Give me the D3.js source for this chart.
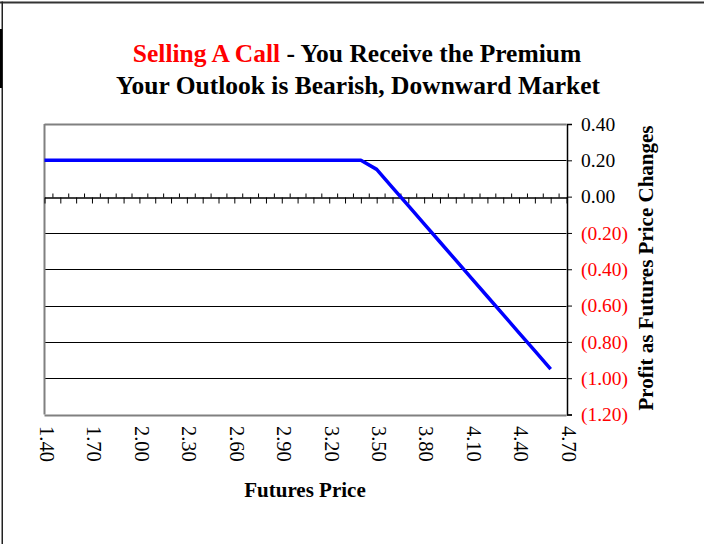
<!DOCTYPE html>
<html>
<head>
<meta charset="utf-8">
<script src="https://cdn.jsdelivr.net/npm/d3@7"></script>
<style>
  body { margin: 0; background: #fff; }
  text { font-family: "Liberation Serif", "Times New Roman", serif; }
</style>
</head>
<body>
<div id="plot"></div>
<script>
// futures price (categories) and profit of the short call
let prices = [1.40, 1.50, 1.60, 1.70, 1.80, 1.90, 2.00, 2.10, 2.20, 2.30, 2.40,
  2.50, 2.60, 2.70, 2.80, 2.90, 3.00, 3.10, 3.20, 3.30, 3.40, 3.50, 3.60,
  3.70, 3.80, 3.90, 4.00, 4.10, 4.20, 4.30, 4.40, 4.50, 4.60]
let profits = [0.20, 0.20, 0.20, 0.20, 0.20, 0.20, 0.20, 0.20, 0.20, 0.20, 0.20,
  0.20, 0.20, 0.20, 0.20, 0.20, 0.20, 0.20, 0.20, 0.20, 0.20, 0.15, 0.05,
  -0.05, -0.15, -0.25, -0.35, -0.45, -0.55, -0.65, -0.75, -0.85, -0.95]
let xLabels = [1.40, 1.70, 2.00, 2.30, 2.60, 2.90, 3.20, 3.50, 3.80, 4.10, 4.40, 4.70]
let yTicks = [0.40, 0.20, 0.00, -0.20, -0.40, -0.60, -0.80, -1.00, -1.20]

let W = 704, H = 544
let svg = d3.select('#plot').append('svg')
.attr('width', W)
.attr('height', H)

// outer frame (top and left only)
svg.append('rect').attr('x', 0).attr('y', 1.5).attr('width', W).attr('height', 2).attr('fill', '#333')
svg.append('rect').attr('x', 1.5).attr('y', 1.5).attr('width', 1.5).attr('height', H).attr('fill', '#222')
svg.append('rect').attr('x', 0).attr('y', 29).attr('width', 2).attr('height', 59).attr('fill', '#000')

let x = d3.scaleLinear().domain([1.4, 4.7]).range([44.5, 566.5])
let y = d3.scaleLinear().domain([0.4, -1.2]).range([124, 414.5])

// grid lines
svg.append('g')
.selectAll('line')
.data(yTicks.filter(d => d != 0))
.enter().append('line')
.attr('x1', x(1.4))
.attr('x2', x(4.7))
.attr('y1', d => Math.round(y(d)) + 0.5)
.attr('y2', d => Math.round(y(d)) + 0.5)
.attr('stroke', d => (d == 0.4 || d == -1.2) ? '#808080' : '#000')
.attr('stroke-width', d => (d == 0.4 || d == -1.2) ? 2 : 1)

// left plot border
svg.append('line')
.attr('x1', x(1.4)).attr('x2', x(1.4))
.attr('y1', y(0.4)).attr('y2', y(-1.2))
.attr('stroke', '#808080')
.attr('stroke-width', 2)

// category axis on the zero line
let zeroY = Math.round(y(0)) + 0.5
svg.append('g')
.attr('transform', 'translate(0,' + zeroY + ')')
.call(d3.axisBottom(x).tickValues(d3.range(1.4, 4.71, 0.1)).tickFormat('').tickSize(6).tickSizeOuter(0))
svg.append('g')
.attr('transform', 'translate(0,' + zeroY + ')')
.call(d3.axisTop(x).tickValues(d3.range(1.45, 4.7, 0.1)).tickFormat('').tickSize(4).tickSizeOuter(0))
svg.selectAll('.domain, .tick line').attr('stroke', '#000')

// x labels, rotated
svg.append('g')
.selectAll('text')
.data(xLabels)
.enter().append('text')
.attr('x', d => x(d))
.attr('y', 426)
.attr('transform', d => 'rotate(90,' + x(d) + ',426)')
.attr('dominant-baseline', 'middle')
.style('font-size', '20.5px')
.text(d => d3.format('.2f')(d))

// value axis on the right
let fmt = d3.format('.2f')
let yAxis = svg.append('g')
.attr('transform', 'translate(567,0)')
.call(d3.axisRight(y).tickValues(yTicks).tickSize(5).tickPadding(9)
  .tickFormat(d => d < 0 ? '(' + fmt(-d) + ')' : fmt(d)))
yAxis.select('.domain').attr('stroke', '#000').attr('stroke-width', 1.5)
yAxis.selectAll('line').attr('stroke', '#000')
yAxis.selectAll('text')
.style('font-size', '19.5px')
.style('font-family', '"Liberation Serif", serif')
.attr('fill', d => d < 0 ? '#ff0000' : '#000')

// profit line
let line = d3.line()
.x((d, i) => x(prices[i]))
.y(d => y(d))
svg.append('path')
.datum(profits)
.attr('d', line)
.attr('fill', 'none')
.attr('stroke', '#0000ff')
.attr('stroke-width', 3.5)
.attr('stroke-linejoin', 'round')

// titles
let title = svg.append('text')
.attr('x', 357)
.attr('y', 62)
.attr('text-anchor', 'middle')
.style('font-size', '25.5px')
.style('font-weight', 'bold')
title.append('tspan').attr('fill', '#ff0000').text('Selling A Call')
title.append('tspan').attr('fill', '#000').text(' - You Receive the Premium')

svg.append('text')
.attr('x', 358)
.attr('y', 94)
.attr('text-anchor', 'middle')
.style('font-size', '25.5px')
.style('font-weight', 'bold')
.text('Your Outlook is Bearish, Downward Market')

svg.append('text')
.attr('x', 305)
.attr('y', 497)
.attr('text-anchor', 'middle')
.style('font-size', '21px')
.style('font-weight', 'bold')
.text('Futures Price')

svg.append('text')
.attr('transform', 'translate(648,268) rotate(-90)')
.attr('text-anchor', 'middle')
.attr('dominant-baseline', 'middle')
.style('font-size', '21px')
.style('font-weight', 'bold')
.text('Profit as Futures Price Changes')
</script>
</body>
</html>
